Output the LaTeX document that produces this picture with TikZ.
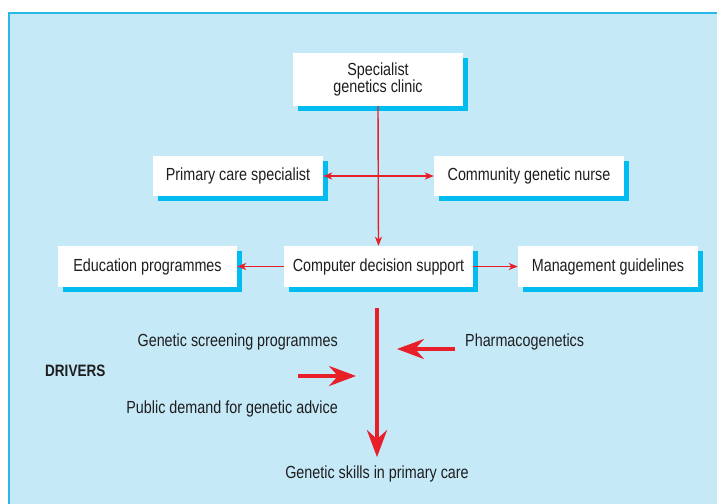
\documentclass[tikz,border=0pt]{standalone}
\usepackage{fontspec}
\setmainfont{Liberation Sans}[FakeStretch=0.82]
\usepackage{tikz}
\usetikzlibrary{arrows.meta, shadows, positioning}
\definecolor{panelblue}{RGB}{198, 233, 248}
\definecolor{edgeblue}{RGB}{40, 185, 235}
\definecolor{shadeblue}{RGB}{0, 188, 240}
\definecolor{linkred}{RGB}{232, 30, 40}
\definecolor{inkgray}{RGB}{30, 30, 30}

\begin{document}
\begin{tikzpicture}[x=1pt, y=-1pt,
    every node/.style={font=\fontsize{17.5}{17.5}\selectfont, text=inkgray},
    box/.style={fill=white, align=center, minimum height=41pt, inner sep=0pt,
      drop shadow={shadow xshift=5pt, shadow yshift=-5pt, fill=shadeblue, opacity=1}},
    thin link/.style={draw=linkred, line width=1.4pt, -{Stealth[length=9pt, width=7pt, inset=2.5pt]}},
    thick link/.style={draw=linkred, line width=4pt, -{Stealth[length=27pt, width=20pt, inset=9pt]}}]
  \useasboundingbox (0,0) rectangle (717,503);
  % panel
  \fill[panelblue] (9,13) rectangle (718,504);
  \draw[edgeblue, line width=1.4pt] (9,504) -- (9,13) -- (718,13);

  % boxes
  \node[box, minimum width=170pt, minimum height=53pt] (spec) at (378,79.5) {Specialist\\genetics clinic};
  \node[box, minimum width=170pt, minimum height=40pt] (prim) at (238,176) {Primary care specialist};
  \node[box, minimum width=190pt, minimum height=40pt] (comm) at (529,176) {Community genetic nurse};
  \node[box, minimum width=179pt] (edu) at (147.5,266.5) {Education programmes};
  \node[box, minimum width=189pt] (cds) at (378.5,266.5) {Computer decision support};
  \node[box, minimum width=180pt] (mgmt) at (608,266.5) {Management guidelines};

  % links between boxes
  \draw[thin link] (spec.south) -- (cds.north);
  \draw[thin link, {Stealth[length=9pt, width=7pt, inset=2.5pt]}-{Stealth[length=9pt, width=7pt, inset=2.5pt]}] (prim.east) -- (comm.west);
  \draw[thin link] (cds.west) -- (edu.east);
  \draw[thin link] (cds.east) -- (mgmt.west);

  % drivers
  \node[anchor=base east, inner sep=0pt] (screen) at (338,346) {Genetic screening programmes};
  \node[anchor=base east, inner sep=0pt] (demand) at (338,413) {Public demand for genetic advice};
  \node[anchor=base west, inner sep=0pt] (pharm) at (465,346) {Pharmacogenetics};
  \node[anchor=base west, inner sep=0pt, font=\fontsize{16.5}{16.5}\selectfont\bfseries] (drivers) at (45,376) {DRIVERS};
  \node[anchor=base, inner sep=0pt] (skills) at (377,478) {Genetic skills in primary care};

  \coordinate (drvtop) at (377,308);
  \coordinate (pushr0) at (298,376);
  \coordinate (pushr1) at (356,376);
  \coordinate (pushl0) at (455,349);
  \coordinate (pushl1) at (397,349);
  \draw[thick link, shorten >=8pt] (drvtop) -- (skills.north);
  \draw[thick link] (pushr0) -- (pushr1);
  \draw[thick link] (pushl0) -- (pushl1);
\end{tikzpicture}
\end{document}
